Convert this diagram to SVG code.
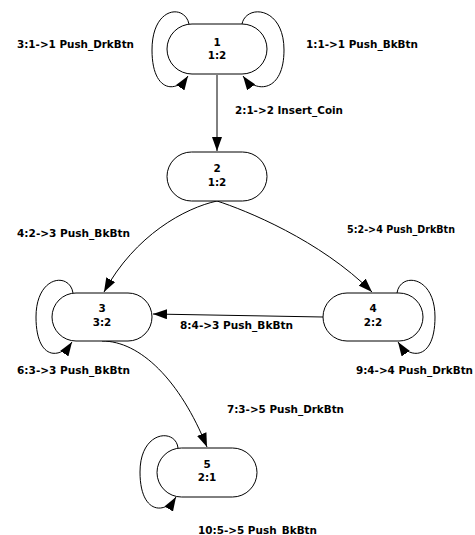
<svg xmlns="http://www.w3.org/2000/svg" width="475" height="535" viewBox="0 0 475 535">
<style>
.node rect{fill:#fff;stroke:#000;stroke-width:1}
.node text{font-family:"DejaVu Sans","Liberation Sans",sans-serif;font-weight:bold;font-size:10.4px;text-anchor:middle;fill:#000}
.edges path{fill:none;stroke:#000;stroke-width:1;marker-end:url(#arr)}
.lbl{font-family:"DejaVu Sans","Liberation Sans",sans-serif;font-weight:bold;font-size:10.4px;fill:#000}
</style>
<defs>
<marker id="arr" markerUnits="userSpaceOnUse" markerWidth="14" markerHeight="10" refX="14" refY="5" orient="auto">
<path d="M0,0 L14,5 L0,10 z" fill="#000"/>
</marker>
</defs>
<rect width="475" height="535" fill="#fff"/>
<g class="edges">
<path d="M189 24 C185 4, 152 6, 152 50 C152 92, 176 94, 188 76"/>
<path d="M242 24 C246 4, 284 6, 284 50 C284 92, 256 94, 243 76"/>
<path d="M217 75 L217 151"/>
<path d="M217 201 C185 208, 135 235, 104 292"/>
<path d="M217 201 C245 210, 320 240, 372 292"/>
<path d="M323 317 L153 314"/>
<path d="M73 293 C70 272, 36 275, 36 317 C36 360, 60 360, 72 342"/>
<path d="M397 293 C400 272, 435 275, 435 317 C435 360, 410 360, 398 342"/>
<path d="M102 341 C140 341, 180 380, 207 447"/>
<path d="M178 448 C176 428, 140 430, 140 472 C140 514, 165 515, 176 497"/>
</g>
<g id="n1" class="node"><rect x="167" y="24" width="100" height="50" rx="25"/><text x="217" y="46">1</text><text x="217" y="59">1:2</text></g>
<g id="n2" class="node"><rect x="167" y="152" width="100" height="49" rx="24.5"/><text x="217" y="172">2</text><text x="217" y="186">1:2</text></g>
<g id="n3" class="node"><rect x="52" y="293" width="100" height="48" rx="24"/><text x="102" y="312">3</text><text x="102" y="326">3:2</text></g>
<g id="n4" class="node"><rect x="323" y="293" width="100" height="48" rx="24"/><text x="373" y="312">4</text><text x="373" y="326">2:2</text></g>
<g id="n5" class="node"><rect x="157" y="448" width="100" height="49" rx="24.5"/><text x="207" y="468">5</text><text x="207" y="481">2:1</text></g>
<g id="labels">
<text class="lbl" x="17" y="48" textLength="117" lengthAdjust="spacingAndGlyphs">3:1-&gt;1 Push_DrkBtn</text>
<text class="lbl" x="306" y="48" textLength="112" lengthAdjust="spacingAndGlyphs">1:1-&gt;1 Push_BkBtn</text>
<text class="lbl" x="235" y="114" textLength="108" lengthAdjust="spacingAndGlyphs">2:1-&gt;2 Insert_Coin</text>
<text class="lbl" x="17" y="237" textLength="113" lengthAdjust="spacingAndGlyphs">4:2-&gt;3 Push_BkBtn</text>
<text class="lbl" x="347" y="233" textLength="108" lengthAdjust="spacingAndGlyphs">5:2-&gt;4 Push_DrkBtn</text>
<text class="lbl" x="180" y="329" textLength="113" lengthAdjust="spacingAndGlyphs">8:4-&gt;3 Push_BkBtn</text>
<text class="lbl" x="17" y="374" textLength="113" lengthAdjust="spacingAndGlyphs">6:3-&gt;3 Push_BkBtn</text>
<text class="lbl" x="356" y="374" textLength="117" lengthAdjust="spacingAndGlyphs">9:4-&gt;4 Push_DrkBtn</text>
<text class="lbl" x="227" y="413" textLength="117" lengthAdjust="spacingAndGlyphs">7:3-&gt;5 Push_DrkBtn</text>
<text class="lbl" x="198" y="534" textLength="119" lengthAdjust="spacingAndGlyphs">10:5-&gt;5 Push_BkBtn</text>
</g>
</svg>
